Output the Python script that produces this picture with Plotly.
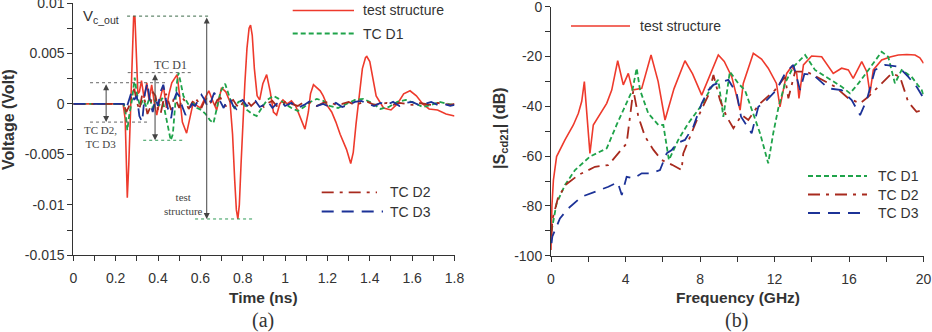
import plotly.graph_objects as go

# ---------------- Panel (a): time domain ----------------
t_ts = [0, 0.235, 0.245, 0.250, 0.255, 0.262, 0.270, 0.278, 0.285, 0.291,
        0.298, 0.305, 0.312, 0.322, 0.334, 0.347, 0.358, 0.370, 0.382, 0.394,
        0.410, 0.425, 0.440, 0.452, 0.465, 0.490, 0.500, 0.515, 0.535, 0.550,
        0.567, 0.585, 0.600, 0.620, 0.640, 0.660, 0.677, 0.700, 0.720, 0.740,
        0.752, 0.762, 0.770, 0.777, 0.784, 0.792, 0.800, 0.810, 0.820, 0.830,
        0.837, 0.845, 0.855, 0.868, 0.880, 0.895, 0.913, 0.930, 0.945, 0.960,
        0.975, 0.990, 1.010, 1.030, 1.050, 1.070, 1.094, 1.110, 1.120, 1.134,
        1.150, 1.166, 1.180, 1.200, 1.220, 1.240, 1.260, 1.280, 1.290, 1.310,
        1.322, 1.335, 1.350, 1.365, 1.380, 1.386, 1.400, 1.415, 1.430, 1.465,
        1.500, 1.530, 1.560, 1.590, 1.620, 1.650, 1.680, 1.720, 1.760, 1.800]
v_ts = [0, 0, -0.0015, -0.0065, -0.0093, -0.0060, -0.0005, 0.0055, 0.0087, 0.0086,
        0.0050, 0.0010, 0.0012, 0.0023, 0.0006, 0.0021, 0.0003, 0.0019, 0.0002, -0.0011,
        0.0005, 0.0018, -0.0004, 0.0010, 0.0021, 0.0029, 0.0012, -0.0018, -0.0029, -0.0015,
        0.0002, -0.0002, -0.0004, 0.0005, 0.0013, 0.0002, -0.0006, 0.0016, 0.0012, 0.0002,
        -0.0030, -0.0075, -0.0105, -0.0114, -0.0100, -0.0060, -0.0020, 0.0020, 0.0055, 0.0075,
        0.0078, 0.0068, 0.0035, 0.0008, 0.0004, 0.0020, 0.0029, 0.0012, -0.0008, -0.0011,
        0.0000, 0.0004, 0.0000, 0.0003, -0.0002, -0.0012, -0.0025, -0.0008, 0.0010, 0.0019,
        0.0016, 0.0013, 0.0008, -0.0002, -0.0008, -0.0018, -0.0030, -0.0040, -0.0045, -0.0059,
        -0.0048, -0.0020, 0.0010, 0.0035, 0.0046, 0.0047, 0.0042, 0.0025, 0.0008, -0.0004,
        -0.0006, 0.0000, 0.0010, 0.0013, 0.0008, 0.0000, -0.0005, -0.0006, -0.0010, -0.0012]

t_d1 = [0, 0.238, 0.248, 0.255, 0.265, 0.278, 0.290, 0.300, 0.315, 0.330,
        0.345, 0.360, 0.375, 0.390, 0.405, 0.420, 0.435, 0.447, 0.460, 0.470,
        0.480, 0.490, 0.497, 0.505, 0.520, 0.545, 0.565, 0.585, 0.605, 0.625,
        0.645, 0.662, 0.677, 0.695, 0.717, 0.730, 0.745, 0.760, 0.780, 0.800,
        0.820, 0.845, 0.866, 0.890, 0.915, 0.945, 0.970, 1.000, 1.030, 1.060,
        1.090, 1.120, 1.150, 1.180, 1.210, 1.250, 1.290, 1.330, 1.370, 1.410,
        1.450, 1.490, 1.530, 1.570, 1.610, 1.650, 1.690, 1.730, 1.770, 1.800]
v_d1 = [0, 0, -0.0010, -0.0026, -0.0010, 0.0005, 0.0026, 0.0010, -0.0002, 0.0004,
        -0.0003, 0.0006, -0.0004, 0.0005, -0.0002, 0.0006, -0.0010, -0.0022, -0.0036, -0.0030,
        0.0000, 0.0022, 0.0031, 0.0022, 0.0008, -0.0001, 0.0001, -0.0004, -0.0006, -0.0010,
        -0.0016, -0.0019, -0.0004, 0.0012, 0.0020, 0.0012, 0.0002, -0.0004, 0.0002, 0.0003,
        -0.0006, -0.0010, -0.0012, -0.0004, 0.0004, 0.0008, 0.0005, 0.0000, -0.0004, -0.0007,
        -0.0003, 0.0002, 0.0005, 0.0003, -0.0002, -0.0004, 0.0000, 0.0004, 0.0005, 0.0001,
        -0.0005, -0.0003, 0.0002, 0.0004, 0.0001, -0.0003, -0.0001, 0.0002, 0.0000, -0.0001]

t_d23 = [0, 0.238, 0.250, 0.262, 0.275, 0.288, 0.300, 0.312, 0.325, 0.338,
         0.350, 0.362, 0.375, 0.388, 0.400, 0.412, 0.425, 0.438, 0.450, 0.462,
         0.475, 0.488, 0.500, 0.515, 0.530, 0.545, 0.560, 0.575, 0.590, 0.605,
         0.620, 0.635, 0.650, 0.665, 0.680, 0.695, 0.710, 0.725, 0.740, 0.755,
         0.770, 0.785, 0.800, 0.820, 0.840, 0.860, 0.880, 0.900, 0.920, 0.940,
         0.960, 0.980, 1.000, 1.030, 1.060, 1.090, 1.120, 1.150, 1.180, 1.210,
         1.240, 1.270, 1.300, 1.330, 1.360, 1.390, 1.420, 1.450, 1.480, 1.510,
         1.540, 1.570, 1.600, 1.630, 1.660, 1.690, 1.720, 1.750, 1.780, 1.800]
v_d2 = [0, 0, -0.0008, -0.0003, 0.0008, 0.0015, 0.0002, -0.0006, 0.0009, 0.0003,
        -0.0010, -0.0004, 0.0012, 0.0008, -0.0006, -0.0010, 0.0003, 0.0010, 0.0002, -0.0006,
        0.0006, 0.0002, -0.0004, 0.0006, 0.0002, -0.0005, 0.0001, 0.0006, 0.0002, -0.0004,
        0.0003, 0.0007, 0.0001, -0.0003, 0.0004, 0.0006, 0.0000, -0.0003, 0.0002, 0.0004,
        -0.0001, -0.0004, 0.0001, 0.0003, -0.0002, 0.0002, 0.0001, -0.0003, 0.0001, 0.0003,
        -0.0002, -0.0001, 0.0002, 0.0000, -0.0002, 0.0002, 0.0001, -0.0002, 0.0001, 0.0002,
        -0.0001, 0.0000, 0.0002, -0.0001, 0.0001, 0.0002, -0.0001, 0.0000, 0.0001, -0.0001,
        0.0001, 0.0000, -0.0001, 0.0001, 0.0000, -0.0001, 0.0001, 0.0000, -0.0001, 0.0000]
v_d3 = [0, 0, -0.0005, 0.0003, 0.0012, 0.0004, 0.0008, -0.0012, -0.0018, 0.0010,
        0.0021, 0.0002, -0.0008, 0.0005, -0.0002, 0.0012, 0.0019, 0.0004, -0.0008, -0.0014,
        0.0004, 0.0011, 0.0008, -0.0003, -0.0011, -0.0007, 0.0000, -0.0002, 0.0003, 0.0009,
        0.0004, -0.0003, 0.0002, 0.0011, 0.0006, 0.0002, -0.0004, 0.0003, 0.0005, -0.0002,
        -0.0005, 0.0002, 0.0004, -0.0002, 0.0001, 0.0003, -0.0003, -0.0001, 0.0002, -0.0004,
        0.0000, 0.0003, -0.0002, 0.0001, -0.0004, -0.0001, 0.0003, -0.0002, 0.0000, -0.0003,
        0.0001, -0.0003, -0.0001, 0.0002, 0.0003, 0.0000, -0.0002, 0.0001, -0.0001, 0.0002,
        -0.0002, 0.0001, 0.0002, -0.0001, 0.0000, 0.0002, -0.0001, 0.0000, -0.0002, -0.0001]

a_xticks = [0, 0.2, 0.4, 0.6, 0.8, 1.0, 1.2, 1.4, 1.6, 1.8]
a_xtext = ["0", "0.2", "0.4", "0.6", "0.8", "1", "1.2", "1.4", "1.6", "1.8"]
a_yticks = [-0.015, -0.01, -0.005, 0, 0.005, 0.01]
a_ytext = ["-0.015", "-0.01", "-0.005", "0", "0.005", "0.01"]

# ---------------- Panel (b): frequency domain ----------------
f_ts = [0, 0.05, 0.13, 0.30, 0.75, 1.20, 1.47, 1.65, 1.79, 1.95,
        2.09, 2.27, 2.60, 2.99, 3.26, 3.58, 3.88, 4.15, 4.37, 4.87,
        5.37, 5.75, 6.12, 6.60, 7.19, 7.60, 8.09, 8.98, 9.30, 9.70,
        10.15, 10.32, 10.86, 11.30, 11.66, 12.10, 12.29, 12.65, 12.92, 13.19,
        13.31, 13.55, 13.99, 14.53, 15.15, 15.60, 15.96, 16.22, 16.68, 16.95,
        17.12, 17.30, 17.75, 18.20, 18.64, 19.10, 19.54, 19.80, 20.0]
s_ts = [-97.7, -80, -69.6, -60.2, -53.5, -47.5, -42.8, -38, -30.1, -45,
        -58.9, -47.5, -43.5, -38.8, -33.5, -21.7, -31.4, -26.8, -33.5, -32.8,
        -19.4, -30, -45.5, -33, -21.7, -27, -35.5, -19.4, -22, -28.1,
        -41.5, -30.8, -18.7, -21, -24.7, -30.8, -40.2, -26.8, -24, -26.8,
        -36.8, -23.4, -19.8, -20.1, -26.8, -24.7, -25.4, -28.8, -22.1, -26.1,
        -34.8, -25.4, -21.4, -20.2, -19.4, -19.2, -19.4, -20.5, -22.7]

f_d1 = [0.03, 0.30, 0.75, 1.29, 2.09, 2.99, 3.52, 4.06, 4.37, 4.60,
        4.78, 5.22, 5.76, 6.03, 6.33, 6.83, 7.37, 8.09, 8.63, 8.98,
        9.25, 9.60, 10.05, 10.41, 10.77, 11.22, 11.66, 11.93, 12.20, 12.56,
        13.01, 13.64, 14.17, 14.89, 15.60, 16.05, 16.50, 17.04, 17.75, 18.10,
        18.46, 18.82, 19.35, 19.90, 20.0]
s_d1 = [-90, -79, -71.6, -65.6, -60.2, -56.9, -47.5, -38.8, -33.5, -24.7,
        -33.5, -42.8, -47.5, -47.5, -61.6, -53.5, -46.8, -39.5, -32.1, -29.4,
        -44.2, -26.1, -30.8, -33.5, -41.5, -50.8, -62.9, -50.8, -40.8, -30.8,
        -24.1, -19.4, -25.4, -28.8, -32.1, -34.8, -30.8, -25.4, -18.1, -20.1,
        -30.8, -25.4, -28.1, -33.5, -35.5]

f_d2 = [0.03, 0.07, 0.39, 0.84, 1.47, 2.36, 3.08, 3.61, 4.06, 4.24,
        4.42, 4.69, 5.05, 5.50, 5.94, 6.50, 7.01, 7.10, 7.90, 8.45,
        8.72, 9.07, 9.43, 9.79, 10.24, 10.59, 11.13, 12.02, 12.56, 12.74,
        13.10, 13.73, 14.53, 15.24, 15.96, 16.59, 17.04, 17.75, 18.28, 18.73,
        19.17, 19.62, 20.0]
s_d2 = [-92, -85.7, -76.3, -71.2, -67.6, -64.3, -63.6, -58.9, -54.9, -44.2,
        -33.5, -44.2, -52.2, -57.5, -61.6, -63.5, -65.6, -58.9, -44.2, -35.5,
        -27.4, -37.5, -44.2, -48.8, -43.5, -45.5, -39.5, -33.5, -28.1, -36.8,
        -26.1, -26.1, -29.4, -32.1, -36.8, -38.8, -36.1, -30.8, -26.8, -28.1,
        -38.2, -42.2, -41.5]

f_d3 = [0.03, 0.07, 0.48, 0.93, 1.65, 2.36, 3.08, 3.58, 3.80, 4.06,
        4.42, 4.87, 5.40, 5.85, 6.21, 6.48, 6.75, 7.19, 7.64, 8.09,
        8.45, 8.72, 9.16, 9.52, 9.97, 10.20, 10.77, 11.13, 11.49, 12.10,
        12.56, 13.01, 13.37, 13.60, 14.08, 14.89, 15.60, 16.14, 16.59, 16.95,
        17.39, 17.93, 18.64, 19.17, 19.62, 20.0]
s_d3 = [-95, -92.4, -85, -81, -76.3, -74.3, -72.3, -70.5, -75.6, -68.3,
        -69, -66.9, -66.9, -65.6, -58.9, -57.6, -54.9, -53.5, -48.2, -38.8,
        -33.5, -31.4, -30.1, -29.4, -34.8, -44.2, -50.8, -40.2, -38.2, -33.5,
        -26.8, -23.4, -33.5, -27, -27.4, -32.8, -33.5, -37.5, -43.5, -37.5,
        -25.4, -23.4, -24.1, -28.1, -32.1, -36.8]

b_xticks = [0, 4, 8, 12, 16, 20]
b_xtext = ["0", "4", "8", "12", "16", "20"]
b_yticks = [-100, -80, -60, -40, -20, 0]
b_ytext = ["-100", "-80", "-60", "-40", "-20", "0"]

series_names = ["test structure", "TC D1", "TC D2", "TC D3"]

# annotation helpers (x extents of marker lines / arrows, in ns)
ts_top_span = [0.254, 0.646]
ts_bot_span = [0.575, 0.845]
d1_top_span = [0.257, 0.560]
d1_bot_span = [0.330, 0.524]
d23_top_span = [0.079, 0.441]
d23_bot_span = [0.079, 0.358]
arrow_t = {"ts": 0.63, "d1": 0.386, "d23": 0.155}

# ---------------- styling ----------------
RED = "#ee3a2c"
GREEN = "#1fa34a"
DRED = "#a82a1e"
BLUE = "#1c3297"
AX = "#333333"
W, H = 932, 332
FONT = "Liberation Sans"
SERIF = "Liberation Serif"
STYLE = {
    "test structure": dict(color=RED, width=1.6),
    "TC D1": dict(color=GREEN, width=1.8, dash="5px,3px"),
    "TC D2": dict(color=DRED, width=1.8, dash="12px,6px,3px,6px"),
    "TC D3": dict(color=BLUE, width=1.8, dash="12px,8px"),
}

def px_x(p):
    return p / W

def px_y(p):
    return 1 - p / H

fig = go.Figure()
for (xs, ys, nm) in [(t_ts, v_ts, "test structure"), (t_d1, v_d1, "TC D1"),
                     (t_d23, v_d2, "TC D2"), (t_d23, v_d3, "TC D3")]:
    fig.add_trace(go.Scatter(x=xs, y=ys, mode="lines", name=nm, line=STYLE[nm],
                             xaxis="x", yaxis="y", showlegend=False))
for (xs, ys, nm) in [(f_ts, s_ts, "test structure"), (f_d1, s_d1, "TC D1"),
                     (f_d2, s_d2, "TC D2"), (f_d3, s_d3, "TC D3")]:
    fig.add_trace(go.Scatter(x=xs, y=ys, mode="lines", name=nm, line=STYLE[nm],
                             xaxis="x2", yaxis="y2", showlegend=False))

axis_common = dict(showline=True, linecolor=AX, linewidth=1, ticks="outside", ticklen=5,
                   tickcolor=AX, showgrid=False, zeroline=False, mirror=False,
                   automargin=False, ticklabeloverflow="allow",
                   tickfont=dict(family=FONT, size=14, color=AX))

def minor(vals):
    return dict(tickvals=vals, ticks="outside", ticklen=5, tickcolor=AX, showgrid=False)

fig.update_layout(
    width=W, height=H, margin=dict(l=0, r=0, t=0, b=0, autoexpand=False),
    paper_bgcolor="white", plot_bgcolor="white", showlegend=False,
    font=dict(family=FONT, color=AX),
    xaxis=dict(domain=[px_x(73.3), px_x(454.5)], range=[0, 1.8], anchor="y",
               tickmode="array", tickvals=a_xticks, ticktext=a_xtext, ticklabelstandoff=5,
               minor=minor([0.1, 0.3, 0.5, 0.7, 0.9, 1.1, 1.3, 1.5, 1.7]), **axis_common),
    yaxis=dict(domain=[px_y(255.3), px_y(3)], range=[-0.015, 0.01], anchor="x",
               tickmode="array", tickvals=a_yticks, ticktext=a_ytext,
               minor=minor([-0.0125, -0.0075, -0.0025, 0.0025, 0.0075]), **axis_common),
    xaxis2=dict(domain=[px_x(551), px_x(923.6)], range=[0, 20], anchor="y2",
                tickmode="array", tickvals=b_xticks, ticktext=b_xtext, ticklabelstandoff=5,
                minor=minor([2, 6, 10, 14, 18]), **axis_common),
    yaxis2=dict(domain=[px_y(255.7), px_y(6.7)], range=[-100, 0], anchor="x2",
                tickmode="array", tickvals=b_yticks, ticktext=b_ytext,
                minor=minor([-90, -70, -50, -30, -10]), **axis_common),
)

# ---- legend keys (line sample + label) ----
def legend_key(name, x0, x1, y, tx):
    fig.add_shape(type="line", xref="paper", yref="paper", x0=px_x(x0), x1=px_x(x1),
                  y0=px_y(y), y1=px_y(y), line=STYLE[name])
    fig.add_annotation(x=px_x(tx), y=px_y(y), xref="paper", yref="paper",
                       xanchor="left", yanchor="middle",
                       text=name, showarrow=False, font=dict(family=FONT, size=14, color=AX))

legend_key(series_names[0], 292.7, 354, 10.5, 361)
legend_key(series_names[1], 292.7, 354, 33.5, 361)
legend_key(series_names[2], 321.7, 377, 192.3, 388)
legend_key(series_names[3], 321.7, 383, 211.5, 388)
legend_key(series_names[0], 571, 630, 26, 638)
legend_key(series_names[1], 808, 867, 176, 876)
legend_key(series_names[2], 808, 867, 194.5, 876)
legend_key(series_names[3], 808, 867, 213, 876)

# ---- measurement markers on panel (a) ----
ts_max, ts_min = max(v_ts), min(v_ts)
d1_max, d1_min = max(v_d1), min(v_d1)
d23_max, d23_min = max(v_d2 + v_d3), min(v_d2 + v_d3)

def hline(span, yv, color):
    fig.add_shape(type="line", xref="x", yref="y", x0=span[0], x1=span[1], y0=yv, y1=yv,
                  line=dict(color=color, width=1, dash="dot"))

hline(ts_top_span, ts_max, "#3d6b4a")
hline(ts_bot_span, ts_min, "#2f9a55")
hline(d1_top_span, d1_max, "#666666")
hline(d1_bot_span, d1_min, "#2f9a55")
hline(d23_top_span, d23_max, "#666666")
hline(d23_bot_span, d23_min, "#666666")

def darrow(tx, y0, y1):
    fig.add_annotation(x=tx, y=y1, ax=tx, ay=y0, xref="x", yref="y", axref="x", ayref="y",
                       showarrow=True, arrowhead=2, arrowsize=1.2, arrowwidth=1,
                       arrowcolor="#444444", arrowside="end+start", text="")

darrow(arrow_t["ts"], ts_max, ts_min)
darrow(arrow_t["d1"], d1_max, d1_min)
darrow(arrow_t["d23"], d23_max, d23_min)

def dlabel(text, x, y, size):
    fig.add_annotation(x=x, y=y, xref="x", yref="y", text=text, showarrow=False,
                       xanchor="center", yanchor="middle", align="center",
                       font=dict(family=SERIF, size=size, color="#444"))

dlabel("TC D1", 0.457, 0.0039, 12)
dlabel("test<br>structure", 0.52, -0.0099, 11)
dlabel("TC D2,<br>TC D3", 0.127, -0.0033, 11)

fig.add_annotation(x=px_x(81), y=px_y(16), xref="paper", yref="paper",
                   xanchor="left", yanchor="middle",
                   text="V<sub>c_out</sub>", showarrow=False,
                   font=dict(family=FONT, size=15, color=AX))

# ---- axis titles and panel labels ----
def label(text, x, y, size=15, bold=True, angle=0, family=FONT):
    fig.add_annotation(x=px_x(x), y=px_y(y), xref="paper", yref="paper", showarrow=False,
                       xanchor="center", yanchor="middle",
                       text=("<b>%s</b>" % text) if bold else text, textangle=angle,
                       font=dict(family=family, size=size, color=AX))

label("Voltage (Volt)", 8, 120, size=16, angle=-90)
label("Time (ns)", 263, 297, size=15.5)
label("(a)", 263, 320, size=20, bold=False, family=SERIF)
label("|S<sub>cd21</sub>| (dB)", 500, 128, size=16, angle=-90)
label("Frequency (GHz)", 738, 297, size=15.5)
label("(b)", 736, 320, size=20, bold=False, family=SERIF)

fig.write_html("out.html")
